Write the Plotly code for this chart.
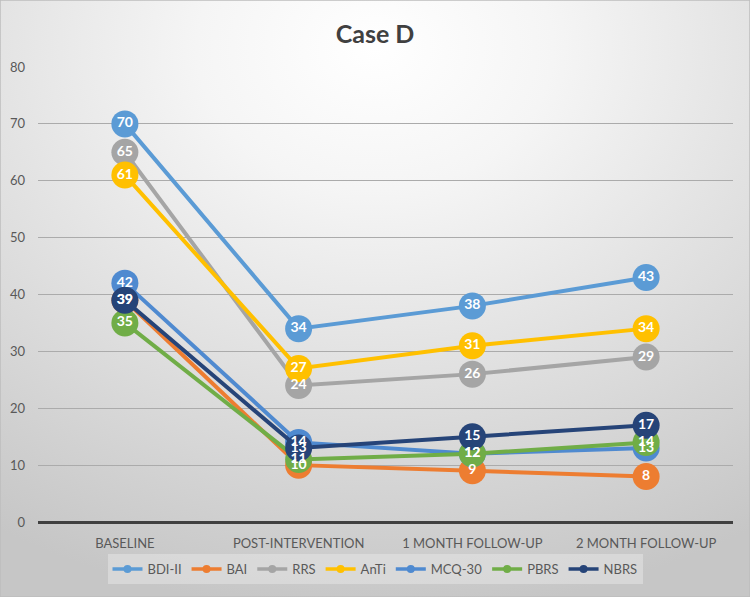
import base64
import plotly.graph_objects as go

# timepoints on the x axis
timepoints = ["BASELINE", "POST-INTERVENTION", "1 MONTH FOLLOW-UP", "2 MONTH FOLLOW-UP"]

# scores per measure
bdi_ii = [70, 34, 38, 43]
bai = [39, 10, 9, 8]
rrs = [65, 24, 26, 29]
anti = [61, 27, 31, 34]
mcq_30 = [42, 14, 12, 13]
pbrs = [35, 11, 12, 14]
nbrs = [39, 13, 15, 17]

series = [
    ("BDI-II", bdi_ii, "#5B9BD5"),
    ("BAI", bai, "#ED7D31"),
    ("RRS", rrs, "#A5A5A5"),
    ("AnTi", anti, "#FFC000"),
    ("MCQ-30", mcq_30, "#4F8AD0"),
    ("PBRS", pbrs, "#70AD47"),
    ("NBRS", nbrs, "#264478"),
]

FONT = "Lato"

# soft radial background like the Excel chart style
svg = """<svg xmlns='http://www.w3.org/2000/svg' width='750' height='597'>
<defs><radialGradient id='g' cx='50%' cy='8%' r='95%' fx='50%' fy='8%'>
<stop offset='0%' stop-color='#ffffff'/>
<stop offset='25%' stop-color='#f5f5f5'/>
<stop offset='100%' stop-color='#c6c6c6'/>
</radialGradient></defs>
<rect width='750' height='597' fill='url(#g)'/></svg>"""
bg_src = "data:image/svg+xml;base64," + base64.b64encode(svg.encode()).decode()

fig = go.Figure()

# lines and markers
for name, vals, color in series:
    fig.add_trace(go.Scatter(
        x=timepoints, y=vals, mode="lines+markers", name=name,
        line=dict(color=color, width=4),
        marker=dict(size=27, color=color),
        showlegend=False, hoverinfo="skip",
    ))

# data labels on top of everything
for name, vals, color in series:
    fig.add_trace(go.Scatter(
        x=timepoints, y=vals, mode="text", text=[str(v) for v in vals],
        textfont=dict(family=FONT, size=14, color="white", weight="bold"),
        showlegend=False, hoverinfo="skip",
    ))

# legend entries with small symbols
for name, vals, color in series:
    fig.add_trace(go.Scatter(
        x=[None], y=[None], mode="lines+markers", name=name,
        line=dict(color=color, width=3.5),
        marker=dict(size=8, color=color),
    ))

fig.update_layout(
    width=750, height=597,
    margin=dict(l=0, r=0, t=0, b=0),
    paper_bgcolor="#e0e0e0",
    plot_bgcolor="rgba(0,0,0,0)",
    title=dict(text="<b>Case D</b>", x=0.5, xanchor="center", y=1 - 34 / 597, yanchor="middle",
               font=dict(family=FONT, size=25, color="#404040")),
    font=dict(family=FONT, color="#595959", size=13),
    xaxis=dict(domain=[38 / 750, 733 / 750], automargin=False, showgrid=False,
               ticks="", ticklabelstandoff=12, tickfont=dict(size=13, color="#595959"),
               range=[-0.5, 3.5]),
    yaxis=dict(domain=[75 / 597, 530 / 597], automargin=False, range=[0, 80], dtick=10,
               showgrid=True, gridcolor="#ababab", gridwidth=1,
               zeroline=True, zerolinecolor="#404040", zerolinewidth=3,
               ticks="", ticklabelstandoff=12, tickfont=dict(size=13, color="#595959")),
    legend=dict(orientation="h", x=0.5, xanchor="center", y=28 / 597, yanchor="middle",
                bgcolor="rgba(235,235,235,0.45)", font=dict(size=13, color="#595959"),
                itemwidth=30, tracegroupgap=0),
    images=[dict(source=bg_src, xref="paper", yref="paper", x=0, y=1, sizex=1, sizey=1,
                 xanchor="left", yanchor="top", sizing="stretch", layer="below")],
    shapes=[dict(type="rect", xref="paper", yref="paper", x0=0, y0=0, x1=1, y1=1,
                 line=dict(color="#bdbdbd", width=1.5))],
)

# drop the default page margin so the chart fills the window
fig.write_html("out.html", config={"displayModeBar": False},
               post_script="document.body.style.margin='0';")
